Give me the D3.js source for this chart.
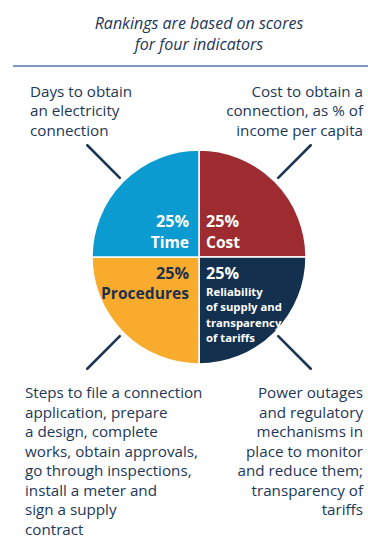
<!DOCTYPE html>
<html>
<head>
<meta charset="utf-8">
<script src="https://cdn.jsdelivr.net/npm/d3@7"></script>
<style>
  html, body { margin: 0; padding: 0; background: #ffffff; }
  svg { display: block; }
  text { font-family: "Open Sans", "Noto Sans", sans-serif; }
</style>
</head>
<body>
<svg id="chart" width="368" height="539"></svg>
<script>
// Indicator weights, listed clockwise from 12 o'clock
const indicators = ["Cost", "Reliability", "Procedures", "Time"];
const weights = [25, 25, 25, 25];
const sliceColors = ["#9d2b2f", "#14304f", "#f9ab2d", "#0b9bd0"];
const sliceTextColors = ["#ffffff", "#ffffff", "#1c3050", "#ffffff"];
const sliceNames = [["Cost"], ["Reliability", "of supply and", "transparency", "of tariffs"], ["Procedures"], ["Time"]];

// What each indicator measures
const descriptions = [
  ["Cost to obtain a", "connection, as % of", "income per capita"],
  ["Power outages", "and regulatory", "mechanisms in", "place to monitor", "and reduce them;", "transparency of", "tariffs"],
  ["Steps to file a connection", "application, prepare", "a design, complete", "works, obtain approvals,", "go through inspections,", "install a meter and", "sign a supply", "contract"],
  ["Days to obtain", "an electricity", "connection"]
];

const titleLines = ["Rankings are based on scores", "for four indicators"];

const svg = d3.select("#chart");
const navy = "#1d3757";
const cx = 199, cy = 257, R = 107;

// Title
svg.append("g").selectAll("text").data(titleLines).join("text")
  .attr("x", 199).attr("y", (d, i) => 29 + i * 20.7)
  .attr("text-anchor", "middle")
  .attr("font-size", 16).attr("font-style", "italic")
  .attr("fill", navy).text(d => d);

svg.append("line").attr("x1", 13).attr("x2", 368).attr("y1", 66).attr("y2", 66)
  .attr("stroke", "#4b79b1").attr("stroke-width", 1.3);

// Pie
const pie = d3.pie().sort(null).value(d => d)(weights);
const arc = d3.arc().innerRadius(0).outerRadius(R);
const g = svg.append("g").attr("transform", `translate(${cx},${cy})`);

g.selectAll("path").data(pie).join("path")
  .attr("d", arc)
  .attr("fill", (d, i) => sliceColors[i])
  .attr("stroke", "#ffffff").attr("stroke-width", 1.5);

// Leader strokes on each slice's mid-angle
g.selectAll("line.leader").data(pie).join("line")
  .attr("class", "leader")
  .each(function (d) {
    const a = (d.startAngle + d.endAngle) / 2;
    d3.select(this)
      .attr("x1", Math.sin(a) * 112).attr("y1", -Math.cos(a) * 112)
      .attr("x2", Math.sin(a) * 158).attr("y2", -Math.cos(a) * 158);
  })
  .attr("stroke", "#1b3553").attr("stroke-width", 2.6).attr("stroke-linecap", "round");

// Slice labels: percentage and name, set against the dividing lines
pie.forEach((d, i) => {
  const a = (d.startAngle + d.endAngle) / 2;
  const right = Math.sin(a) > 0;
  const top = Math.cos(a) > 0;
  const x = right ? 7 : -10;
  const anchor = right ? "start" : "end";
  const lab = g.append("g").attr("text-anchor", anchor).attr("fill", sliceTextColors[i])
    .attr("font-weight", "bold");
  const y0 = top ? -30 : 21.5;
  lab.append("text").attr("x", x).attr("y", y0).attr("font-size", 16.2).text(weights[i] + "%");
  const names = sliceNames[i];
  if (names.length === 1) {
    lab.append("text").attr("x", x).attr("y", y0 + 20.5).attr("font-size", 15.6).text(names[0]);
  } else {
    names.forEach((n, j) => {
      lab.append("text").attr("x", x).attr("y", y0 + 17 + j * 15.6).attr("font-size", 11.3).text(n);
    });
  }
});

// Descriptions in the four corners
const descPos = [
  { x: 363, y: 96.5, anchor: "end" },
  { x: 363, y: 398, anchor: "end" },
  { x: 25, y: 398, anchor: "start" },
  { x: 30, y: 96.5, anchor: "start" }
];
descriptions.forEach((lines, i) => {
  const p = descPos[i];
  svg.append("g").attr("text-anchor", p.anchor).attr("fill", navy)
    .attr("font-size", 15.2)
    .selectAll("text").data(lines).join("text")
    .attr("x", p.x).attr("y", (d, j) => p.y + j * 19.55).text(d => d);
});
</script>
</body>
</html>
